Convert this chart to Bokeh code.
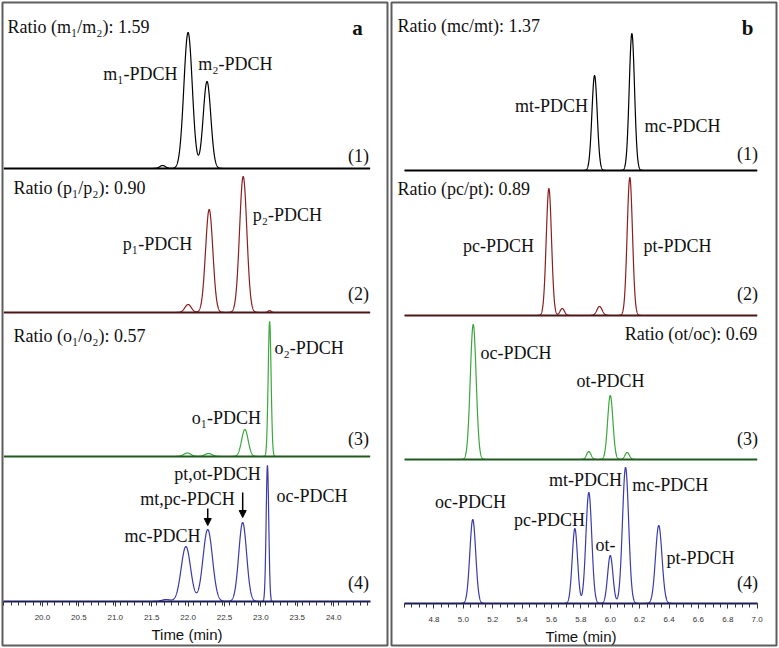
import numpy as np
from bokeh.plotting import figure
from bokeh.models import (Range1d, LinearAxis, FixedTicker, ColumnDataSource,
                          Arrow, NormalHead, PrintfTickFormatter)
from bokeh.layouts import row
from bokeh.core.properties import value
from bokeh.embed import file_html
from bokeh.resources import INLINE

# ---------------- data: panel a (retention time in min, peak height, peak width) ----
a_t1 = [21.65, 22.00, 22.26]
a_h1 = [3, 136, 87]
a_s1 = [0.04, 0.058, 0.052]

a_t2 = [22.00, 22.29, 22.757, 23.12]
a_h2 = [8, 103, 136, 2]
a_s2 = [0.045, 0.05, 0.05, 0.02]

a_t3 = [21.99, 22.28, 22.78, 23.12]
a_h3 = [3.5, 3, 27, 135]
a_s3 = [0.05, 0.05, 0.045, 0.02]

a_t4 = [21.70, 21.97, 22.27, 22.75, 23.09]
a_h4 = [2, 55, 72, 79, 136]
a_s4 = [0.06, 0.065, 0.065, 0.054, 0.018]

# ---------------- data: panel b ----------------
b_t1 = [5.893, 6.147]
b_h1 = [95, 137]
b_s1 = [0.018, 0.018]

b_t2 = [5.582, 5.673, 5.927, 6.133]
b_h2 = [127, 7, 9, 138]
b_s2 = [0.018, 0.015, 0.018, 0.018]

b_t3 = [5.067, 5.854, 6.000, 6.115]
b_h3 = [135, 8, 64, 7]
b_s3 = [0.02, 0.015, 0.018, 0.015]

b_t4 = [5.064, 5.759, 5.854, 6.000, 6.104, 6.330]
b_h4 = [84, 75, 111, 48, 136, 78]
b_s4 = [0.02, 0.018, 0.02, 0.018, 0.021, 0.022]

# tick labels
a_major = [20.0, 20.5, 21.0, 21.5, 22.0, 22.5, 23.0, 23.5, 24.0]
b_major = [4.8, 5.0, 5.2, 5.4, 5.6, 5.8, 6.0, 6.2, 6.4, 6.6, 6.8, 7.0]

# annotation texts
a_texts_left = ["Ratio (m\u2081/m\u2082): 1.59", "Ratio (p\u2081/p\u2082): 0.90",
                "Ratio (o\u2081/o\u2082): 0.57", "o\u2082-PDCH", "oc-PDCH"]
a_texts_center = ["m\u2081-PDCH", "m\u2082-PDCH", "p\u2081-PDCH", "p\u2082-PDCH",
                  "o\u2081-PDCH", "pt,ot-PDCH", "mt,pc-PDCH", "mc-PDCH",
                  "(1)", "(2)", "(3)", "(4)"]
b_texts_left = ["Ratio (mc/mt): 1.37", "Ratio (pc/pt): 0.89", "oc-PDCH",
                "mc-PDCH", "pt-PDCH"]
b_texts_center = ["mt-PDCH", "mc-PDCH", "pc-PDCH", "pt-PDCH", "ot-PDCH",
                  "oc-PDCH", "mt-PDCH", "pc-PDCH", "ot-",
                  "(1)", "(2)", "(3)", "(4)"]
b_texts_right = ["Ratio (ot/oc): 0.69"]

# ---------------- layout constants ----------------
H = 647
SERIF = "Liberation Serif"
SANS = "Liberation Sans"
COLORS = ["#000000", "#8b1e1e", "#3aa83a", "#3a3aaa"]
BASE_COLORS = ["#000000", "#4a1616", "#1f5a1f", "#1c1c5c"]


def curve(xs, times, heights, sigmas, offset):
    y = np.full_like(xs, float(offset))
    for t, h, s in zip(times, heights, sigmas):
        y += h * np.exp(-0.5 * ((xs - t) / s) ** 2)
    return y


def make_panel(width, xr, yr, bounds, major, minor_step, traces, offsets,
               left_lbl, center_lbl, right_lbl, letter, arrows):
    p = figure(width=width, height=H, x_range=Range1d(*xr), y_range=Range1d(*yr),
               output_backend="svg", toolbar_location=None,
               x_axis_type=None, y_axis_type=None,
               min_border=2, min_border_left=2, min_border_right=2,
               min_border_top=2, min_border_bottom=2)
    p.outline_line_color = "#5e5e5e"
    p.outline_line_width = 2
    p.background_fill_color = "white"
    p.border_fill_color = "white"

    minor = list(np.round(np.arange(bounds[0], bounds[1] + 1e-9, minor_step), 3))
    ax = LinearAxis(fixed_location=0, bounds=bounds,
                    ticker=FixedTicker(ticks=major, minor_ticks=minor),
                    formatter=PrintfTickFormatter(format="%.1f"),
                    axis_label="Time (min)")
    ax.axis_line_color = BASE_COLORS[3]
    ax.axis_line_width = 2
    ax.major_tick_in = 0
    ax.major_tick_out = 5
    ax.minor_tick_in = 0
    ax.minor_tick_out = 4
    ax.major_tick_line_color = "#333333"
    ax.minor_tick_line_color = "#333333"
    ax.major_label_text_font = SANS
    ax.major_label_text_font_size = "8px"
    ax.major_label_text_color = "#333333"
    ax.major_label_standoff = 8
    ax.axis_label_text_font = SANS
    ax.axis_label_text_font_size = "15px"
    ax.axis_label_text_font_style = "normal"
    ax.axis_label_text_color = "#111111"
    ax.axis_label_standoff = 3
    p.add_layout(ax, "below")

    xs = np.linspace(bounds[0], bounds[1], 4000)
    for i, (tt, hh, ss) in enumerate(traces):
        off = offsets[i]
        p.line(xs, curve(xs, tt, hh, ss, off), line_color=COLORS[i], line_width=1.2)
        if off != 0:
            p.line([bounds[0], bounds[1]], [off, off], line_color=BASE_COLORS[i],
                   line_width=2)

    for (lbls, align) in ((left_lbl, "left"), (center_lbl, "center"), (right_lbl, "right")):
        if not lbls[0]:
            continue
        src = ColumnDataSource(dict(x=lbls[1], y=lbls[2], text=lbls[0]))
        p.text(x="x", y="y", text="text", source=src, text_font=value(SERIF),
               text_font_size="18px", text_align=align, text_baseline="middle",
               text_color="#111111")
    src = ColumnDataSource(dict(x=[letter[1]], y=[letter[2]], text=[letter[0]]))
    p.text(x="x", y="y", text="text", source=src, text_font=value(SERIF),
           text_font_size="21px", text_font_style="bold", text_align="center",
           text_baseline="middle", text_color="#111111")
    for (x, y0, y1) in arrows:
        p.add_layout(Arrow(x_start=x, y_start=y0, x_end=x, y_end=y1,
                           line_width=1.5, line_color="black",
                           end=NormalHead(size=7, fill_color="black",
                                          line_color="black")))
    return p


# panel a
a_traces = [(a_t1, a_h1, a_s1), (a_t2, a_h2, a_s2), (a_t3, a_h3, a_s3), (a_t4, a_h4, a_s4)]
a_offsets = [433, 289, 145, 0]
a_left = (a_texts_left, [19.519, 19.602, 19.602, 23.187, 23.214], [575, 414, 266, 254, 106])
a_center = (a_texts_center,
            [21.346, 22.651, 21.580, 23.365, 22.527, 22.404, 21.992, 21.648,
             24.341, 24.341, 24.341, 24.341],
            [528, 538, 358, 387, 184, 128, 103, 66, 446, 308, 163, 19])
a_arrows = [(a_t4[3], 109, 84), (a_t4[2], 93, 76)]
pa = make_panel(389, (19.451, 24.739), (-44, 599), (19.47, 24.5), a_major, 0.1,
                a_traces, a_offsets, a_left, a_center, ([], [], []),
                ("a", 24.327, 574), a_arrows)

# panel b
b_traces = [(b_t1, b_h1, b_s1), (b_t2, b_h2, b_s2), (b_t3, b_h3, b_s3), (b_t4, b_h4, b_s4)]
b_offsets = [433, 288, 144, 0]
b_left = (b_texts_left, [4.552, 4.552, 5.117, 6.149, 6.383], [578, 415, 251, 119, 46])
b_center = (b_texts_center,
            [5.600, 6.492, 5.239, 6.458, 6.002, 5.048, 5.831, 5.586, 5.967,
             6.934, 6.934, 6.934, 6.934],
            [498, 478, 358, 358, 223, 102, 124, 84, 59, 450, 310, 165, 21])
b_right = (b_texts_right, [7.0], [270])
pb = make_panel(389, (4.5107, 7.1315), (-42, 601), (4.6, 7.0), b_major, 0.05,
                b_traces, b_offsets, b_left, b_center, b_right,
                ("b", 6.934, 576), [])

layout = row(pa, pb, spacing=0)
open("out.html", "w").write(file_html(layout, INLINE))
